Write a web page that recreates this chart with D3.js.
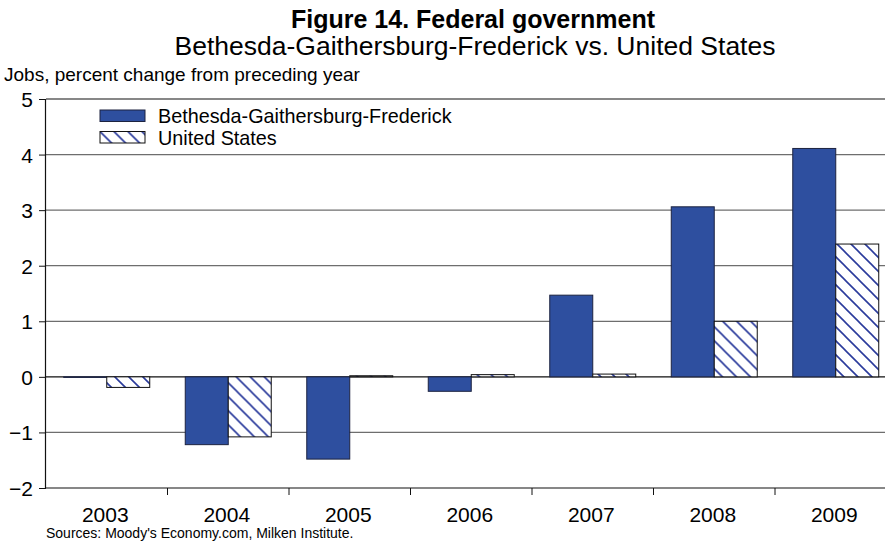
<!DOCTYPE html>
<html>
<head>
<meta charset="utf-8">
<script src="https://cdn.jsdelivr.net/npm/d3@7"></script>
<style>
  html, body { margin: 0; padding: 0; background: #fff; }
  svg { display: block; font-family: "Liberation Sans", Arial, sans-serif; }
</style>
</head>
<body>
<svg id="chart" width="885" height="541"></svg>
<script>
// Federal government jobs, percent change from preceding year
const years = ["2003", "2004", "2005", "2006", "2007", "2008", "2009"];
const seriesNames = ["Bethesda-Gaithersburg-Frederick", "United States"];
const bgfValues = [-0.01, -1.22, -1.48, -0.26, 1.47, 3.06, 4.11];
const usValues = [-0.19, -1.08, 0.02, 0.04, 0.05, 1.0, 2.39];
const yTicks = [-2, -1, 0, 1, 2, 3, 4, 5];

const svg = d3.select("#chart");
const W = 885, H = 541;
const plot = { left: 46, right: 896.5, top: 99, bottom: 488 };
const FONT = "Liberation Sans, Arial, sans-serif";

// Diagonal hatch used for the United States series
const defs = svg.append("defs");
const pat = defs.append("pattern")
  .attr("id", "hatch")
  .attr("patternUnits", "userSpaceOnUse")
  .attr("width", 14).attr("height", 14);
pat.append("rect").attr("width", 14).attr("height", 14).attr("fill", "#fff");
pat.append("path")
  .attr("d", "M-3.5,-3.5 L17.5,17.5 M-3.5,10.5 L3.5,17.5 M10.5,-3.5 L17.5,3.5")
  .attr("stroke", "#2b3b9c").attr("stroke-width", 1.6);

const x = d3.scaleBand().domain(years).range([plot.left, plot.right]).paddingInner(0).paddingOuter(0);
const inner = d3.scaleBand().domain([0, 1]).range([0, x.bandwidth()]).paddingOuter(0.413).paddingInner(0);
const y = d3.scaleLinear().domain([-2, 5]).range([plot.bottom, plot.top]);

// Horizontal gridlines
svg.append("g").selectAll("line").data(yTicks).join("line")
  .attr("x1", plot.left).attr("x2", W)
  .attr("y1", d => y(d)).attr("y2", d => y(d))
  .attr("stroke", d => (d === 0 || d === -2 || d === 5) ? "#111" : "#6e6e6e")
  .attr("stroke-width", 1.2);

// Bars
const fills = ["#2e4f9f", "url(#hatch)"];
const data = years.map((yr, i) => [bgfValues[i], usValues[i]]);
const groups = svg.append("g").selectAll("g").data(data).join("g")
  .attr("transform", (d, i) => `translate(${x(years[i])},0)`);
groups.selectAll("rect").data(d => d.map((v, k) => ({ v, k }))).join("rect")
  .attr("x", d => inner(d.k))
  .attr("width", inner.bandwidth())
  .attr("y", d => y(Math.max(0, d.v)))
  .attr("height", d => Math.abs(y(d.v) - y(0)))
  .attr("fill", d => fills[d.k])
  .attr("stroke", d => d.k === 0 ? "#1c2340" : "#111")
  .attr("stroke-width", 1);

// Y axis
const yAxis = d3.axisLeft(y).tickValues(yTicks).tickSize(7).tickFormat(d3.format("d"));
const gy = svg.append("g").attr("transform", `translate(${plot.left},0)`).call(yAxis);
gy.select(".domain").attr("d", `M-0.5,${plot.top}V${plot.bottom}`).attr("stroke", "#111").attr("stroke-width", 1.2);
gy.selectAll(".tick line").attr("stroke", "#111");
gy.selectAll(".tick text").attr("x", -13).attr("dy", "0.36em")
  .attr("font-size", 21).attr("fill", "#000").attr("font-family", FONT);

// X axis
const xAxis = d3.axisBottom(x).tickSize(0);
const gx = svg.append("g").attr("transform", `translate(0,${plot.bottom})`).call(xAxis);
gx.select(".domain").remove();
gx.selectAll(".tick text").attr("x", -1.5).attr("y", 19).attr("font-size", 21).attr("fill", "#000")
  .attr("font-family", FONT);
// category separators below the baseline
svg.append("g").selectAll("line").data(years.slice(1)).join("line")
  .attr("x1", d => x(d)).attr("x2", d => x(d))
  .attr("y1", plot.bottom).attr("y2", plot.bottom + 7)
  .attr("stroke", "#111");

// Legend
const legend = svg.append("g").attr("transform", "translate(100,110)");
seriesNames.forEach((name, i) => {
  const g = legend.append("g").attr("transform", `translate(0,${i * 21.5})`);
  g.append("rect").attr("x", 0).attr("y", 0).attr("width", 45).attr("height", 11.5)
    .attr("fill", fills[i]).attr("stroke", i === 0 ? "#1c2340" : "#111").attr("stroke-width", 1);
  g.append("text").attr("x", 58).attr("y", 13).attr("font-size", 19.8).text(name);
});

// Titles and notes
svg.append("text").attr("x", 473).attr("y", 28).attr("text-anchor", "middle")
  .attr("font-size", 25).attr("font-weight", "bold").text("Figure 14. Federal government");
svg.append("text").attr("x", 475).attr("y", 55).attr("text-anchor", "middle")
  .attr("font-size", 26.5).text("Bethesda-Gaithersburg-Frederick vs. United States");
svg.append("text").attr("x", 4).attr("y", 81).attr("font-size", 19)
  .text("Jobs, percent change from preceding year");
svg.append("text").attr("x", 46).attr("y", 538).attr("font-size", 14)
  .text("Sources: Moody's Economy.com, Milken Institute.");
</script>
</body>
</html>
